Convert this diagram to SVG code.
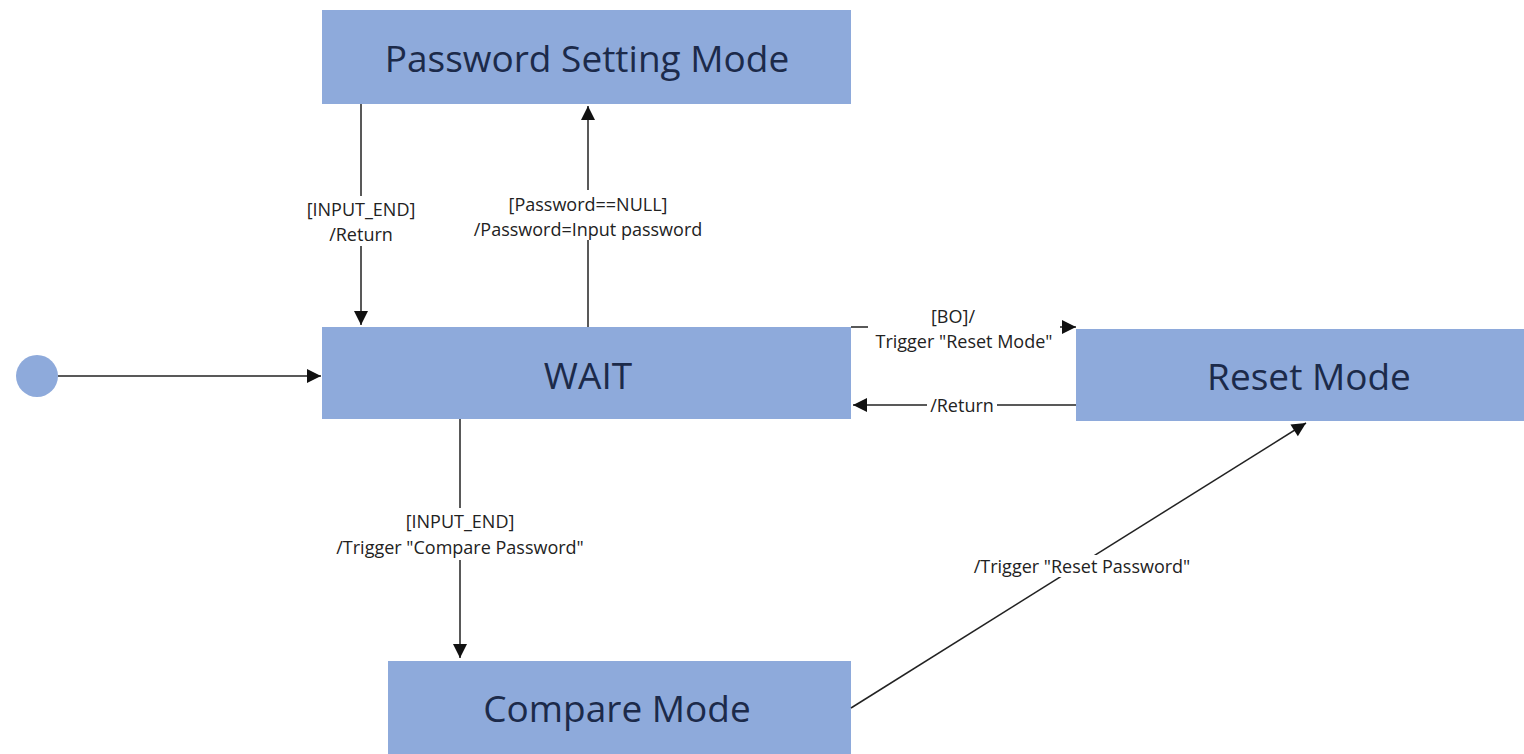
<svg xmlns="http://www.w3.org/2000/svg" width="1524" height="754" viewBox="0 0 1524 754">
<defs>
<style>
.node{fill:#8eaadb;}
.title{font-family:"Open Sans","Liberation Sans",sans-serif;font-size:37px;fill:#1c2a4a;text-anchor:middle;dominant-baseline:central;}
.lbl{font-family:"Open Sans","Liberation Sans",sans-serif;font-size:18px;fill:#222;text-anchor:middle;dominant-baseline:central;}
.edge{stroke:#222;stroke-width:1.5;fill:none;marker-end:url(#arr);}
.bg{fill:#fff;}
</style>
<marker id="arr" viewBox="0 0 10 10" refX="10" refY="5" markerWidth="15" markerHeight="14" markerUnits="userSpaceOnUse" orient="auto">
<path d="M0,0 L10,5 L0,10 z" fill="#111"/>
</marker>
</defs>
<rect width="1524" height="754" fill="#fff"/>
<g id="initial"><circle cx="37" cy="376" r="21" fill="#8eaadb"/></g>
<g id="password-setting"><rect class="node" x="322" y="10" width="529" height="94"/><text class="title" x="587" y="57">Password Setting Mode</text></g>
<g id="wait"><rect class="node" x="322" y="327" width="529" height="92"/><text class="title" x="588" y="374">WAIT</text></g>
<g id="reset"><rect class="node" x="1076" y="329" width="448" height="92"/><text class="title" x="1309" y="375">Reset Mode</text></g>
<g id="compare"><rect class="node" x="388" y="661" width="463" height="93"/><text class="title" x="617" y="707">Compare Mode</text></g>
<g id="connectors">
<line class="edge" x1="58" y1="376" x2="321" y2="376"/>
<line class="edge" x1="361" y1="104" x2="361" y2="325"/>
<line class="edge" x1="588" y1="327" x2="588" y2="106"/>
<line class="edge" x1="851" y1="327" x2="1076" y2="327"/>
<line class="edge" x1="1076" y1="405" x2="853" y2="405"/>
<line class="edge" x1="460" y1="419" x2="460" y2="658"/>
<line class="edge" x1="851" y1="708" x2="1306" y2="423"/>
</g>
<g id="labels">
<rect class="bg" x="279" y="196" width="164" height="50"/>
<text class="lbl" x="361" y="209">[INPUT_END]</text>
<text class="lbl" x="361" y="234">/Return</text>
<rect class="bg" x="466" y="190" width="244" height="50"/>
<text class="lbl" x="588" y="204">[Password==NULL]</text>
<text class="lbl" x="588" y="229">/Password=Input password</text>
<rect class="bg" x="868" y="306" width="192" height="48"/>
<text class="lbl" x="953" y="316">[BO]/</text>
<text class="lbl" x="964" y="341">Trigger "Reset Mode"</text>
<rect class="bg" x="927" y="395" width="70" height="20"/>
<text class="lbl" x="962" y="405">/Return</text>
<rect class="bg" x="316" y="508" width="288" height="52"/>
<text class="lbl" x="460" y="521">[INPUT_END]</text>
<text class="lbl" x="460" y="547">/Trigger "Compare Password"</text>
<rect class="bg" x="964" y="555" width="238" height="22"/>
<text class="lbl" x="1082" y="566">/Trigger "Reset Password"</text>
</g>
</svg>
